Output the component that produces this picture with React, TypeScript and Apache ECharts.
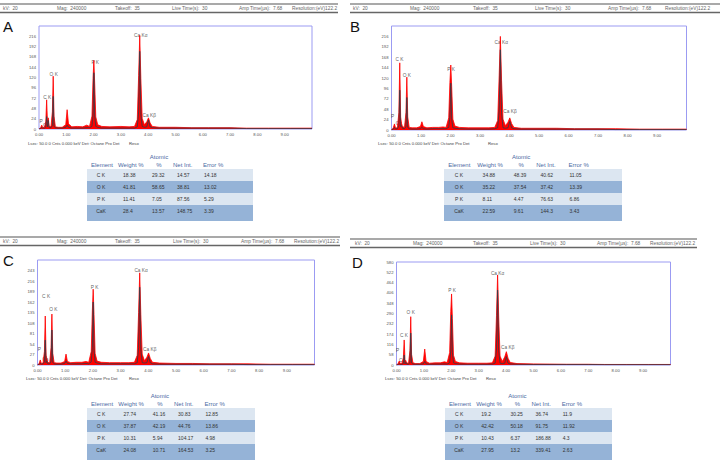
import React, { useEffect, useRef } from "react";
import * as echarts from "echarts";

// ---------- data ----------
const ENERGY = [0, 0.06, 0.1, 0.14, 0.2, 0.25, 0.28, 0.31, 0.34, 0.37, 0.44, 0.49, 0.52, 0.55, 0.6, 0.7, 0.85, 0.98, 1.03, 1.08, 1.2, 1.4, 1.6, 1.75, 1.85, 1.94, 1.98, 2.01, 2.04, 2.08, 2.15, 2.3, 2.6, 3.0, 3.3, 3.5, 3.6, 3.65, 3.69, 3.73, 3.78, 3.86, 3.95, 4.01, 4.07, 4.15, 4.4, 5.0, 5.6, 6.2, 7.0, 7.6, 8.4, 9.2, 10.0];

const A_COUNTS = [0, 3, 9, 3, 4, 18, 68, 16, 26, 6, 6, 40, 123, 30, 5, 4, 4, 10, 45, 12, 5, 6, 5, 9, 6, 30, 118, 160, 105, 28, 10, 6, 5, 6, 5, 6, 22, 125, 218, 118, 25, 10, 17, 26, 14, 6, 4, 4, 3, 3, 3, 2, 2, 2, 2];
const A_FIT = [0, 1, 4, 2, 2, 5, 29, 5, 20, 3, 3, 8, 76, 6, 3, 2, 2, 4, 9, 4, 2, 2, 2, 3, 3, 6, 35, 131, 30, 6, 4, 2, 2, 2, 2, 2, 5, 40, 181, 35, 6, 4, 5, 21, 5, 3, 2, 2, 2, 2, 2, 1, 1, 1, 1];
const B_COUNTS = [0, 5, 14, 4, 6, 40, 155, 30, 15, 8, 6, 40, 122, 30, 6, 5, 5, 8, 19, 8, 5, 6, 6, 7, 6, 28, 110, 150, 100, 25, 9, 6, 5, 5, 5, 6, 22, 125, 216, 115, 25, 10, 18, 28, 15, 6, 4, 4, 4, 3, 3, 3, 2, 2, 2];
const B_FIT = [0, 2, 6, 2, 3, 10, 92, 8, 10, 4, 3, 8, 75, 6, 3, 2, 2, 3, 6, 3, 2, 3, 3, 3, 3, 6, 30, 108, 25, 5, 4, 3, 2, 2, 2, 3, 5, 45, 185, 40, 5, 4, 5, 20, 5, 3, 2, 2, 2, 2, 2, 1, 1, 1, 1];
const C_COUNTS = [0, 4, 13, 4, 5, 35, 126, 25, 15, 7, 6, 45, 131, 30, 6, 5, 5, 9, 28, 9, 6, 7, 7, 9, 7, 35, 140, 195, 130, 30, 10, 7, 6, 6, 6, 7, 25, 135, 237, 130, 28, 11, 20, 31, 17, 7, 5, 4, 4, 3, 3, 3, 2, 2, 2];
const C_FIT = [0, 2, 5, 2, 3, 8, 64, 6, 10, 3, 3, 10, 90, 7, 3, 2, 2, 4, 10, 4, 3, 3, 3, 4, 3, 8, 45, 162, 40, 7, 5, 3, 3, 3, 3, 3, 6, 45, 200, 40, 6, 5, 6, 22, 6, 3, 2, 2, 2, 2, 2, 1, 1, 1, 1];
const D_COUNTS = [0, 8, 22, 8, 10, 40, 141, 30, 25, 12, 10, 80, 272, 60, 12, 8, 8, 20, 90, 20, 10, 12, 12, 18, 14, 70, 300, 400, 260, 55, 20, 12, 10, 10, 10, 12, 50, 280, 507, 270, 50, 20, 45, 75, 38, 14, 8, 6, 5, 4, 4, 3, 3, 3, 3];
const D_FIT = [0, 3, 8, 3, 4, 8, 56, 6, 15, 5, 4, 15, 180, 12, 5, 4, 4, 6, 20, 6, 4, 5, 5, 6, 5, 12, 80, 282, 70, 12, 8, 5, 4, 4, 4, 5, 10, 90, 422, 80, 10, 8, 10, 47, 10, 6, 4, 3, 3, 3, 3, 2, 2, 2, 2];

const A_PEAKS: [string, number, number][] = [["Ca Kα", 3.73, 217], ["P K", 2.06, 156], ["O K", 0.54, 127], ["C K", 0.3, 73], ["Ca Kβ", 4.04, 31], ["P", 0.08, 17], ["Ca", 0.26, 9]];
const B_PEAKS: [string, number, number][] = [["Ca Kα", 3.72, 201], ["P K", 2.02, 140], ["O K", 0.52, 126], ["C K", 0.27, 163], ["Ca Kβ", 4.02, 42], ["P", 0.04, 31], ["Ca", 0.25, 15]];
const C_PEAKS: [string, number, number][] = [["Ca Kα", 3.74, 242], ["P K", 2.06, 199], ["O K", 0.57, 144], ["C K", 0.31, 177], ["Ca Kβ", 4.05, 40], ["P", 0.07, 40], ["Ca", 0.28, 15]];
const D_PEAKS: [string, number, number][] = [["Ca Kα", 3.69, 516], ["P K", 2.03, 420], ["O K", 0.52, 298], ["C K", 0.27, 167], ["Ca Kβ", 4.06, 96], ["P", 0.04, 81], ["Ca", 0.2, 28]];

const Y_MAX = [240, 240, 270, 580];
const Y_STEP = [24, 24, 27, 58];
const X_MAX = 10;
const X_STEP = 1;

const ELEMENTS = ["C K", "O K", "P K", "CaK"];
const A_WEIGHT = [18.38, 41.81, 11.41, 28.4];
const A_ATOMIC = [29.32, 58.65, 7.05, 13.57];
const A_NET = [14.57, 38.81, 87.56, 148.75];
const A_ERROR = [14.18, 13.02, 5.29, 3.39];
const B_WEIGHT = [34.88, 35.22, 8.11, 22.59];
const B_ATOMIC = [48.39, 37.54, 4.47, 9.61];
const B_NET = [40.62, 37.42, 76.63, 144.3];
const B_ERROR = [11.05, 13.39, 6.86, 3.43];
const C_WEIGHT = [27.74, 37.87, 10.31, 24.08];
const C_ATOMIC = [41.16, 42.19, 5.94, 10.71];
const C_NET = [30.83, 44.76, 104.17, 164.53];
const C_ERROR = [12.85, 13.86, 4.98, 3.25];
const D_WEIGHT = [19.2, 42.42, 10.43, 27.95];
const D_ATOMIC = [30.25, 50.18, 6.37, 13.2];
const D_NET = [36.74, 91.75, 186.88, 339.41];
const D_ERROR = [11.9, 11.92, 4.3, 2.63];

const HEADER_ITEMS = ["kV:  20", "Mag:  240000", "Takeoff:  35", "Live Time(s):  30", "Amp Time(µs):  7.68", "Resolution:(eV)122.2"];
const TABLE_HEAD = ["Element", "Weight %", "%", "Net Int.", "Error %"];
const FOOTER = "Lsec: 50.0 0 Cnts 0.000 keV Det: Octane Pro Det";
const FOOTER_RESO = "Reso";

// ---------- layout ----------
const FONT = "Liberation Sans, Arial, sans-serif";
const PANELS = [
  { letter: "A", lx: 3, ly: 26, hx0: 0, hx1: 338, hy: 4, hxs: [3, 57, 115, 172, 239, 292], grid: { left: 39, top: 26, width: 273, height: 103 }, fx: 28, rx: 129, fy: 143, tx: 87, tw: 166, ty: 157,
    counts: A_COUNTS, fit: A_FIT, peaks: A_PEAKS, cols: [A_WEIGHT, A_ATOMIC, A_NET, A_ERROR] },
  { letter: "B", lx: 350, ly: 26, hx0: 350, hx1: 720, hy: 4, hxs: [353, 410, 473, 535, 608, 665], grid: { left: 391.5, top: 26, width: 295, height: 104 }, fx: 378, rx: 488, fy: 143, tx: 444, tw: 178, ty: 157,
    counts: B_COUNTS, fit: B_FIT, peaks: B_PEAKS, cols: [B_WEIGHT, B_ATOMIC, B_NET, B_ERROR] },
  { letter: "C", lx: 3, ly: 260, hx0: 0, hx1: 340, hy: 237, hxs: [3, 57, 115, 173, 241, 294], grid: { left: 37.5, top: 260, width: 277, height: 105 }, fx: 26, rx: 129, fy: 378, tx: 87, tw: 168, ty: 396,
    counts: C_COUNTS, fit: C_FIT, peaks: C_PEAKS, cols: [C_WEIGHT, C_ATOMIC, C_NET, C_ERROR] },
  { letter: "D", lx: 352, ly: 262, hx0: 350, hx1: 697, hy: 239, hxs: [355, 413, 473, 530, 597, 650], grid: { left: 396.5, top: 262, width: 274, height: 103 }, fx: 385, rx: 486, fy: 378, tx: 445, tw: 167, ty: 396,
    counts: D_COUNTS, fit: D_FIT, peaks: D_PEAKS, cols: [D_WEIGHT, D_ATOMIC, D_NET, D_ERROR] },
];

const HEAD_X = [4, 31, 72, 86, 116];
const VAL_X = [14, 36, 65, 90, 117];
const LIGHT = "#dce6f1";
const DARK = "#95b3d7";
const BLUE = "#4a69a3";

function txt(text: string, x: number, y: number, size: number, fill: string, align = "left", weight = "normal") {
  return { type: "text", x, y, silent: true, style: { text, fontSize: size, fill, textAlign: align, textVerticalAlign: "middle", fontFamily: FONT, fontWeight: weight } };
}

function buildGraphics() {
  const g: any[] = [];
  PANELS.forEach((p) => {
    g.push({ type: "line", shape: { x1: p.hx0, y1: p.hy, x2: p.hx1, y2: p.hy }, style: { stroke: "#555", lineWidth: 1.2 } });
    g.push({ type: "line", shape: { x1: p.hx0, y1: p.hy + 8.5, x2: p.hx1, y2: p.hy + 8.5 }, style: { stroke: "#666", lineWidth: 1.5 } });
    HEADER_ITEMS.forEach((h, i) => g.push(txt(h, p.hxs[i], p.hy + 4.3, 4.8, "#666")));
    g.push(txt(p.letter, p.lx, p.ly, 15, "#111"));
    g.push(txt(FOOTER, p.fx, p.fy, 4.2, "#444"));
    g.push(txt(FOOTER_RESO, p.rx, p.fy, 4.2, "#444"));
    const s = p.tw / 166;
    g.push(txt("Atomic", p.tx + HEAD_X[2] * s, p.ty, 6, BLUE, "center"));
    TABLE_HEAD.forEach((h, i) => g.push(txt(h, p.tx + HEAD_X[i] * s, p.ty + 7.5, 6, BLUE, i === 2 ? "center" : "left")));
    const rowTop = p.ty + 12;
    ELEMENTS.forEach((el, r) => {
      const y = rowTop + r * 12;
      const h = r === 3 ? 16 : 12;
      g.push({ type: "rect", shape: { x: p.tx, y, width: p.tw, height: h }, style: { fill: r % 2 === 0 ? LIGHT : DARK } });
      const cy = y + 6.2;
      g.push(txt(el, p.tx + VAL_X[0] * s, cy, 5, "#333", "center"));
      p.cols.forEach((col, c) => g.push(txt(String(col[r]), p.tx + VAL_X[c + 1] * s, cy, 5, "#333")));
    });
  });
  return g;
}

function buildOption() {
  const grid: any[] = [];
  const xAxis: any[] = [];
  const yAxis: any[] = [];
  const series: any[] = [];
  PANELS.forEach((p, i) => {
    grid.push({ ...p.grid, show: true, borderColor: "#9b9bf2", borderWidth: 1, backgroundColor: "transparent" });
    xAxis.push({
      type: "value", gridIndex: i, min: 0, max: X_MAX, interval: X_STEP,
      axisLine: { show: false }, axisTick: { show: false }, splitLine: { show: false },
      axisLabel: { fontSize: 4.2, color: "#555", fontFamily: FONT, margin: 3, showMaxLabel: false, formatter: (v: number) => v.toFixed(2) },
    });
    yAxis.push({
      type: "value", gridIndex: i, min: 0, max: Y_MAX[i], interval: Y_STEP[i],
      axisLine: { show: false }, axisTick: { show: false }, splitLine: { show: false },
      axisLabel: { fontSize: 4.2, color: "#555", fontFamily: FONT, margin: 3, showMaxLabel: i === 3 },
    });
    series.push({
      type: "line", xAxisIndex: i, yAxisIndex: i, silent: true, showSymbol: false,
      data: ENERGY.map((e, k) => [e, p.counts[k]]),
      lineStyle: { color: "#ff0000", width: 0.8 }, areaStyle: { color: "#ff0000", opacity: 1 },
    });
    series.push({
      type: "line", xAxisIndex: i, yAxisIndex: i, silent: true, showSymbol: false,
      data: ENERGY.map((e, k) => [e, p.fit[k]]),
      lineStyle: { color: "#2f3d4a", width: 0.8 },
    });
    series.push({
      type: "scatter", xAxisIndex: i, yAxisIndex: i, silent: true, symbolSize: 1,
      itemStyle: { color: "transparent" },
      data: p.peaks.map((pk) => [pk[1], pk[2], pk[0]]),
      label: { show: true, position: "inside", formatter: (d: any) => d.data[2], fontSize: 4.8, color: "#333", fontFamily: FONT },
    });
  });
  return { animation: false, backgroundColor: "#fff", grid, xAxis, yAxis, series, graphic: buildGraphics() };
}

export default function App() {
  const ref = useRef<HTMLDivElement>(null);
  useEffect(() => {
    if (!ref.current) return;
    const chart = echarts.init(ref.current, null, { renderer: "svg" });
    chart.setOption(buildOption() as any);
    return () => chart.dispose();
  }, []);
  return <div ref={ref} style={{ position: "absolute", left: 0, top: 0, width: 720, height: 464 }} />;
}
